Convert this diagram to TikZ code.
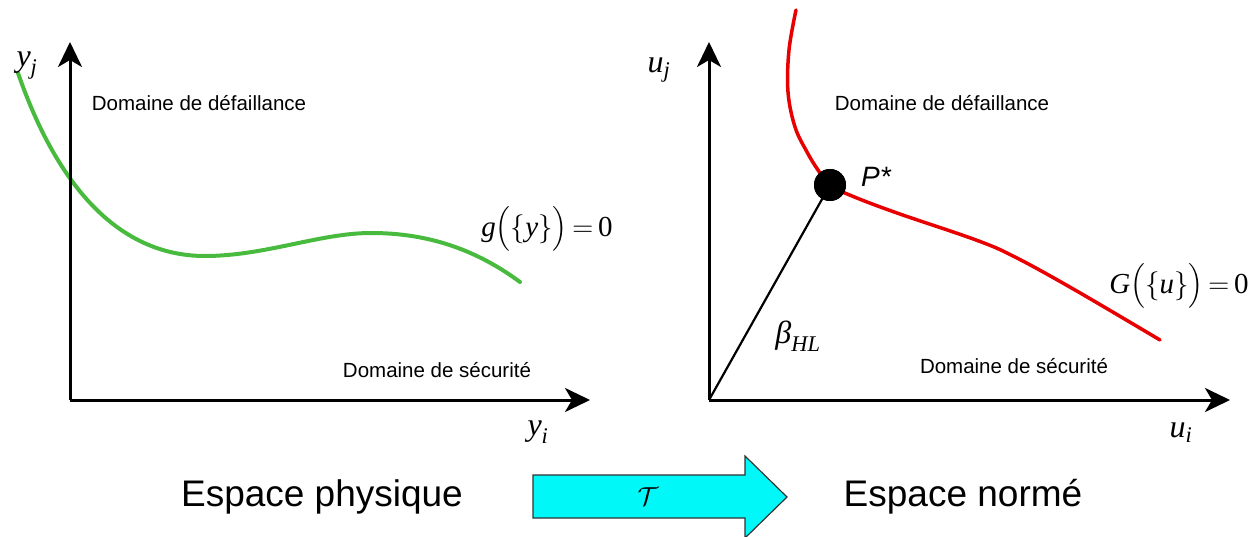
\RequirePackage{fix-cm}
\documentclass[tikz,border=0pt]{standalone}
\usepackage{amsmath}
\usepackage{fontspec}
\setmainfont{Liberation Serif}
\setsansfont{Liberation Sans}
\usetikzlibrary{arrows.meta}
\definecolor{curvegreen}{RGB}{72,186,62}
\definecolor{curvered}{RGB}{232,0,0}
\definecolor{arrowcyan}{RGB}{0,248,248}
\newcommand\mv[1]{\text{\itshape #1}}
\tikzset{
  axis/.style={line width=3pt,-{Stealth[length=25pt,width=24pt,inset=7pt]}},
  domlabel/.style={font=\sffamily\fontsize{20.5}{24}\selectfont,inner sep=0pt},
  axlabel/.style={font=\fontsize{32}{36}\selectfont,inner sep=0pt},
  eqlabel/.style={font=\fontsize{29}{34}\selectfont,inner sep=0pt},
  spacelabel/.style={font=\sffamily\fontsize{37}{42}\selectfont,inner sep=0pt},
}
\begin{document}
\begin{tikzpicture}[x=1pt,y=-1pt]
\useasboundingbox (0,0) rectangle (1260,537);
% ---------- left panel ----------
\coordinate (O1) at (70,400);
\coordinate (Y1) at (70,42);
\coordinate (X1) at (590,400);
\coordinate (g0) at (18,73);
\coordinate (g1) at (205,256);
\coordinate (g2) at (371,233);
\coordinate (g3) at (520,282);
\draw[curvegreen,line width=4pt,line cap=round]
  (g0) .. controls (55,180) and (115,256) .. (g1)
       .. controls (265,256) and (320,233) .. (g2)
       .. controls (420,233) and (470,245) .. (g3);
\draw[axis] (O1) -- (Y1);
\draw[axis] (O1) -- (X1);
\node[axlabel] (yj) at (27,66) {$\mv{y}_{\mv{j}}$};
\node[axlabel] (yi) at (538,432) {$\mv{y}_{\mv{i}}$};
\node[domlabel] (fail1) at (199,103) {Domaine de défaillance};
\node[domlabel] (safe1) at (437,370) {Domaine de sécurité};
\node[eqlabel] (g) at (547,229) {$\mv{g}\bigl(\{\mv{y}\}\bigr)\mskip-2mu=\mskip-2mu\mbox{0}$};
% ---------- right panel ----------
\coordinate (O2) at (709,400);
\coordinate (Y2) at (709,42);
\coordinate (X2) at (1230,400);
\draw[curvered,line width=3.5pt,line cap=round] plot[smooth,tension=0.6] coordinates
  {(796,10) (789,50) (788,92) (795,127) (807,152) (818,170) (830,185) (852,196) (897,213) (976,240) (1015,257) (1075,290) (1160,340)};
\node[circle,fill=black,minimum size=32pt,inner sep=0pt] (P) at (830,185) {};
\draw[line width=2.2pt] (O2) -- (P.center);
\fill (P) circle (16pt);
\draw[axis] (O2) -- (Y2);
\draw[axis] (O2) -- (X2);
\node[axlabel] (uj) at (659,70) {$\mv{u}_{\mv{j}}$};
\node[axlabel] (ui) at (1181,433) {$\mv{u}_{\mv{i}}$};
\node[font=\sffamily\itshape\fontsize{28}{32}\selectfont,inner sep=0pt] (Pl) at (876,177) {P*};
\node[axlabel] (beta) at (798,336) {$\mv{β}_{\mv{HL}}$};
\node[domlabel] (fail2) at (942,103) {Domaine de défaillance};
\node[domlabel] (safe2) at (1014,366) {Domaine de sécurité};
\node[eqlabel] (G) at (1179,286) {$\mv{G}\bigl(\{\mv{u}\}\bigr)\mskip-2mu=\mskip-2mu\mbox{0}$};
% ---------- bottom ----------
\node[spacelabel] (phys) at (322,497) {Espace physique};
\node[spacelabel] (norm) at (963,497) {Espace normé};
\draw[fill=arrowcyan,draw=black!80,line width=1.2pt,line join=miter]
  (533,475) -- (745,475) -- (745,456) -- (787,497) -- (745,538) -- (745,518) -- (533,518) -- cycle;
\node[font=\fontsize{26}{30}\selectfont,inner sep=0pt] (T) at (648,497) {$\mathcal{T}$};
\end{tikzpicture}
\end{document}
